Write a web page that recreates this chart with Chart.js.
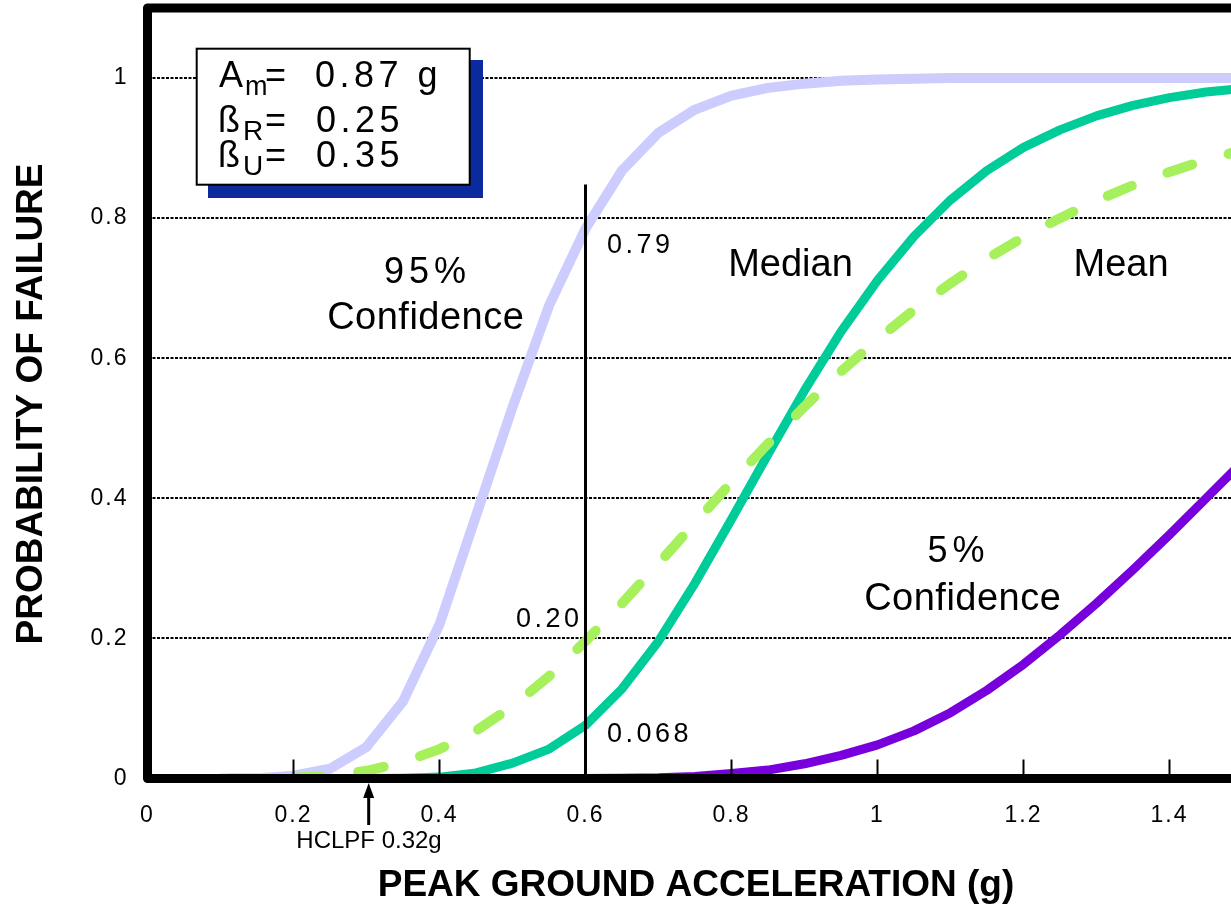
<!DOCTYPE html>
<html>
<head>
<meta charset="utf-8">
<script src="https://cdn.jsdelivr.net/npm/chart.js@4.4.1/dist/chart.umd.min.js"></script>
<style>
  html, body { margin: 0; padding: 0; background: #fff; overflow: hidden; }
  #wrap { width: 1260px; height: 905px; }
</style>
</head>
<body>
<div id="wrap"><canvas id="fragility" width="1260" height="905"></canvas></div>
<script>
// --- Values (probability of failure vs PGA) ---
const accel = [0.10, 0.15, 0.20, 0.25, 0.30, 0.35, 0.40, 0.45, 0.50, 0.55,
               0.60, 0.65, 0.70, 0.75, 0.80, 0.85, 0.90, 0.95, 1.00, 1.05,
               1.10, 1.15, 1.20, 1.25, 1.30, 1.35, 1.40, 1.45, 1.50];

const conf95 = [0, 0, 0.004, 0.014, 0.045, 0.11, 0.22, 0.375, 0.53, 0.675,
                0.785, 0.868, 0.922, 0.955, 0.975, 0.986, 0.992, 0.996, 0.998, 0.999,
                1, 1, 1, 1, 1, 1, 1, 1, 1];

const median = [0, 0, 0, 0, 0, 0.0005, 0.002, 0.008, 0.022, 0.042,
                0.076, 0.128, 0.196, 0.279, 0.37, 0.463, 0.554, 0.638, 0.711, 0.774,
                0.826, 0.868, 0.901, 0.926, 0.946, 0.961, 0.972, 0.98, 0.985];

const mean = [0, 0, 0.001, 0.004, 0.011, 0.023, 0.042, 0.068, 0.103, 0.146,
              0.196, 0.25, 0.307, 0.365, 0.423, 0.478, 0.531, 0.581, 0.627, 0.669,
              0.707, 0.742, 0.773, 0.8, 0.825, 0.847, 0.866, 0.883, 0.897];

const conf05 = [0, 0, 0, 0, 0, 0, 0, 0, 0, 0,
                0, 0.0005, 0.001, 0.003, 0.007, 0.012, 0.021, 0.033, 0.048, 0.068,
                0.094, 0.126, 0.163, 0.205, 0.25, 0.298, 0.348, 0.4, 0.452];

const xTickLabels = ['0', '0.2', '0.4', '0.6', '0.8', '1', '1.2', '1.4'];
const yTickLabels = ['0', '0.2', '0.4', '0.6', '0.8', '1'];

const markerAccel = 0.6;    // vertical reference line
const markerTop = 0.848;
const hclpfAccel = 0.303;   // arrow under the axis

const FONT = '"Liberation Sans", Arial, Helvetica, sans-serif';

const pts = ys => accel.map((x, i) => ({ x, y: ys[i] }));

function txt(ctx, s, x, y, size, opts = {}) {
  const sp = opts.spacing || 0;
  ctx.font = (opts.bold ? 'bold ' : '') + size + 'px ' + FONT;
  ctx.letterSpacing = sp + 'px';
  ctx.textAlign = opts.align || 'left';
  ctx.textBaseline = opts.baseline || 'alphabetic';
  ctx.fillStyle = '#000';
  ctx.fillText(s, opts.align === 'center' ? x + sp / 2 : x, y);
}

// --- frame, tick marks, text box and labels ---
const decorations = {
  id: 'decorations',
  beforeDraw(chart) {
    chart.ctx.letterSpacing = '2px';   // slightly spaced tick labels
  },
  afterDatasetsDraw(chart) {
    const { ctx, chartArea: a, scales: { x, y } } = chart;
    ctx.save();
    ctx.strokeStyle = '#000';
    ctx.lineWidth = 2;
    x.ticks.forEach(t => {
      if (t.value === 0) return;
      const px = x.getPixelForValue(t.value);
      ctx.beginPath(); ctx.moveTo(px, a.bottom); ctx.lineTo(px, a.bottom - 19); ctx.stroke();
    });
    y.ticks.forEach(t => {
      const k = Math.round(t.value * 10);
      if (k % 2 === 0 || k > 10) return;
      const py = y.getPixelForValue(t.value);
      ctx.beginPath(); ctx.moveTo(a.left, py); ctx.lineTo(a.left + 10, py); ctx.stroke();
    });
    ctx.lineWidth = 9;
    ctx.lineJoin = 'round';
    ctx.beginPath();
    ctx.moveTo(a.right, a.top);
    ctx.lineTo(a.left, a.top);
    ctx.lineTo(a.left, a.bottom);
    ctx.lineTo(a.right, a.bottom);
    ctx.stroke();
    ctx.restore();
  },
  afterDraw(chart) {
    const { ctx, scales: { x } } = chart;
    ctx.save();

    // parameter box with blue drop shadow
    ctx.fillStyle = '#0a2a9e';
    ctx.fillRect(208, 60, 275, 138);
    ctx.fillStyle = '#fff';
    ctx.fillRect(196.7, 48.7, 273, 136);
    ctx.strokeStyle = '#000';
    ctx.lineWidth = 2;
    ctx.strokeRect(196.7, 48.7, 273, 136);

    txt(ctx, 'A', 219, 87, 36);
    txt(ctx, 'm', 245, 95, 27);
    txt(ctx, '=', 265, 87, 36);
    txt(ctx, '0.87 g', 315, 87, 36, { spacing: 4.5 });
    txt(ctx, 'ß', 218, 131.5, 36);
    txt(ctx, 'R', 243, 140, 28);
    txt(ctx, '=', 265, 131.5, 36);
    txt(ctx, '0.25', 316, 131.5, 36, { spacing: 4.5 });
    txt(ctx, 'ß', 218, 167, 36);
    txt(ctx, 'U', 243, 175, 28);
    txt(ctx, '=', 265, 167, 36);
    txt(ctx, '0.35', 316, 167, 36, { spacing: 4.5 });

    // curve labels
    txt(ctx, '95%', 425, 283, 36, { align: 'center', spacing: 5 });
    txt(ctx, 'Confidence', 425.5, 328.5, 38, { align: 'center', spacing: 0.5 });
    txt(ctx, 'Median', 790.5, 276, 38, { align: 'center' });
    txt(ctx, 'Mean', 1121, 276, 38, { align: 'center' });
    txt(ctx, '5%', 956, 562, 36, { align: 'center', spacing: 5 });
    txt(ctx, 'Confidence', 962.5, 610, 38, { align: 'center', spacing: 0.5 });

    // values read at 0.6 g
    txt(ctx, '0.79', 607, 253, 27, { spacing: 3.5 });
    txt(ctx, '0.20', 516, 627, 27, { spacing: 3.5 });
    txt(ctx, '0.068', 607, 742, 27, { spacing: 3.5 });

    // HCLPF arrow
    const ax = x.getPixelForValue(hclpfAccel);
    ctx.strokeStyle = '#000';
    ctx.lineWidth = 3;
    ctx.beginPath(); ctx.moveTo(ax, 795); ctx.lineTo(ax, 825); ctx.stroke();
    ctx.fillStyle = '#000';
    ctx.beginPath(); ctx.moveTo(ax, 783); ctx.lineTo(ax - 5.5, 798); ctx.lineTo(ax + 5.5, 798); ctx.closePath(); ctx.fill();
    txt(ctx, 'HCLPF 0.32g', 369, 848, 24, { align: 'center' });

    // axis titles
    txt(ctx, 'PEAK GROUND ACCELERATION (g)', 696, 896, 37, { bold: true, align: 'center' });
    ctx.translate(31.5, 404);
    ctx.rotate(-Math.PI / 2);
    txt(ctx, 'PROBABILITY OF FAILURE', 0, 0, 37, { bold: true, align: 'center', baseline: 'middle' });

    ctx.restore();
    ctx.letterSpacing = '0px';
  }
};

new Chart(document.getElementById('fragility'), {
  type: 'line',
  data: {
    datasets: [
      { data: [{ x: markerAccel, y: 0 }, { x: markerAccel, y: markerTop }],
        borderColor: '#000', borderWidth: 3, order: -1 },
      { label: '5% Confidence', data: pts(conf05), borderColor: '#7700dd', borderWidth: 9, order: 0 },
      { label: 'Mean', data: pts(mean), borderColor: '#a6f05c', borderWidth: 10,
        borderDash: [26, 38], borderDashOffset: -10, borderCapStyle: 'round', order: 1 },
      { label: 'Median', data: pts(median), borderColor: '#00cc99', borderWidth: 9, order: 2 },
      { label: '95% Confidence', data: pts(conf95), borderColor: '#ccccff', borderWidth: 10, order: 3 }
    ]
  },
  options: {
    responsive: false,
    animation: false,
    devicePixelRatio: 1,
    layout: { padding: { left: 0, right: 17.5, top: 8, bottom: 0 } },
    elements: { point: { radius: 0 }, line: { tension: 0, borderJoinStyle: 'round' } },
    plugins: { legend: { display: false }, tooltip: { enabled: false } },
    scales: {
      x: {
        type: 'linear', min: 0, max: 1.5,
        afterFit: s => { s.height = 126.5; s.paddingLeft = 0; s.paddingRight = 0; },
        grid: { display: false },
        border: { display: false },
        ticks: {
          stepSize: 0.2, includeBounds: false, autoSkip: false, maxRotation: 0,
          padding: 15, color: '#000', font: { size: 23, family: FONT },
          callback: v => xTickLabels[Math.round(v * 5)]
        }
      },
      y: {
        type: 'linear', min: 0, max: 1.1,
        afterFit: s => { s.width = 147.5; s.paddingTop = 0; s.paddingBottom = 0; },
        grid: {
          drawTicks: false, lineWidth: 2,
          color: c => {
            const k = Math.round(c.tick.value * 10);
            return (k > 0 && k <= 10 && k % 2 === 0) ? '#000' : 'rgba(0,0,0,0)';
          }
        },
        border: { display: false, dash: [3, 1.5] },
        ticks: {
          stepSize: 0.1, autoSkip: false, padding: 19, color: '#000',
          font: { size: 23, family: FONT },
          callback: v => {
            const k = Math.round(v * 10);
            return (k % 2 === 0 && k <= 10) ? yTickLabels[k / 2] : null;
          }
        }
      }
    }
  },
  plugins: [decorations]
});
</script>
</body>
</html>
